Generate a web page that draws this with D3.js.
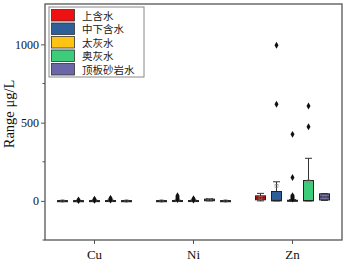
<!DOCTYPE html>
<html>
<head>
<meta charset="utf-8">
<script src="https://cdn.jsdelivr.net/npm/d3@7"></script>
<style>
  body { margin: 0; background: #fff; }
  svg { display: block; }
</style>
</head>
<body>
<div id="chart"></div>
<script>
const width = 345
const height = 267

const margin = { top: 4, bottom: 27, left: 45, right: 3 }

// data (µg/L)
const elements = ["Cu", "Ni", "Zn"]
const waters = ["上含水", "中下含水", "太灰水", "奥灰水", "顶板砂岩水"]
const colors = ["#ee1111", "#2f5f98", "#ffc316", "#3ccc7a", "#6b66a6"]
const yTicks = [0, 500, 1000]

// per element, per water type
const q1 = [[0, 0, 0, 0, 0], [0, 0, 0, 1, 0], [7, 0, 0, 0, 6]]
const median = [[0.5, 0.5, 0.5, 1, 0.5], [0.5, 1, 1, 5, 0.5], [19, 3, 1, 2, 25]]
const q3 = [[1, 1, 1.5, 2, 1], [1, 2, 2, 11, 1], [32, 60, 4, 130, 45]]
const whiskerLow = [[0, 0, 0, 0, 0], [0, 0, 0, 0, 0], [0, 0, 0, 0, 3]]
const whiskerHigh = [[2, 2, 3, 4, 2], [2, 4, 4, 14, 2], [48, 122, 8, 272, 46]]
const means = [[0.5, 1, 2, 3, 0.5], [0.5, 5, 3, 6, 0.5], [20, 95, 30, 125, 25]]
const outliers = [
  [[], [3, 5], [4, 7, 10], [5, 9, 13, 16], []],
  [[], [8, 14, 20, 27, 33], [5, 9, 13], [], []],
  [[], [617, 995], [12, 17, 22, 27, 33, 149, 425], [474, 606], []]
]

const svg = d3.select("#chart").append("svg").attr("width", width).attr("height", height)
const plotW = width - margin.left - margin.right
const plotH = height - margin.top - margin.bottom

const x = d3.scaleBand().domain(elements).range([margin.left, margin.left + plotW]).padding(0)
const y = d3.scaleLinear().domain([-250, 1258]).range([margin.top + plotH, margin.top])
const sub = d3.scaleLinear().domain([0, waters.length - 1]).range([-32, 32])
const boxW = 10

// axes
const yAxis = svg.append("g").attr("transform", `translate(${margin.left},0)`)
  .call(d3.axisLeft(y).tickValues(yTicks).tickSize(4).tickFormat(d3.format("d")))
yAxis.selectAll("text").style("font-family", "Liberation Serif").style("font-size", "12px").style("fill", "#111").attr("x", -6)
yAxis.selectAll("line").attr("stroke", "#555")
yAxis.select(".domain").remove()
svg.append("g").selectAll("line").data([-250, 250, 750]).join("line")
  .attr("x1", margin.left - 2.5).attr("x2", margin.left)
  .attr("y1", d => y(d)).attr("y2", d => y(d)).attr("stroke", "#555")

const xAxis = svg.append("g").attr("transform", `translate(0,${margin.top + plotH})`)
  .call(d3.axisBottom(x).tickSize(4))
xAxis.selectAll("text").style("font-family", "Liberation Serif").style("font-size", "13px").style("fill", "#111").attr("y", 10)
xAxis.selectAll("line").attr("stroke", "#555")
xAxis.select(".domain").remove()

svg.append("rect").attr("x", margin.left).attr("y", margin.top).attr("width", plotW).attr("height", plotH)
  .attr("fill", "none").attr("stroke", "#555").attr("stroke-width", 1.3)

svg.append("text").attr("transform", `translate(14,${margin.top + 110}) rotate(-90)`)
  .attr("text-anchor", "middle").style("font-family", "Liberation Serif").style("font-size", "14.5px")
  .style("fill", "#111").text("Range μg/L")

// boxes
const boxes = []
elements.forEach((el, i) => {
  waters.forEach((w, j) => {
    boxes.push({ el, i, j, cx: x(el) + x.bandwidth() / 2 + sub(j) })
  })
})

const g = svg.append("g")
boxes.forEach(b => {
  const { i, j, cx } = b
  const gg = g.append("g")
  // whiskers
  gg.append("line").attr("x1", cx).attr("x2", cx).attr("y1", y(q3[i][j])).attr("y2", y(whiskerHigh[i][j]))
    .attr("stroke", "#333").attr("stroke-width", 1)
  gg.append("line").attr("x1", cx).attr("x2", cx).attr("y1", y(q1[i][j])).attr("y2", y(whiskerLow[i][j]))
    .attr("stroke", "#333").attr("stroke-width", 1)
  gg.append("line").attr("x1", cx - 3.5).attr("x2", cx + 3.5).attr("y1", y(whiskerHigh[i][j])).attr("y2", y(whiskerHigh[i][j]))
    .attr("stroke", "#333").attr("stroke-width", 1)
  gg.append("line").attr("x1", cx - 3.5).attr("x2", cx + 3.5).attr("y1", y(whiskerLow[i][j])).attr("y2", y(whiskerLow[i][j]))
    .attr("stroke", "#333").attr("stroke-width", 1)
  // box
  const top = y(q3[i][j]), bot = y(q1[i][j])
  gg.append("rect").attr("x", cx - boxW / 2).attr("y", top).attr("width", boxW).attr("height", Math.max(bot - top, 1))
    .attr("fill", colors[j]).attr("stroke", "#222").attr("stroke-width", 1)
  gg.append("line").attr("x1", cx - boxW / 2).attr("x2", cx + boxW / 2).attr("y1", y(median[i][j])).attr("y2", y(median[i][j]))
    .attr("stroke", "#222").attr("stroke-width", 1)
  // mean
  gg.append("rect").attr("x", cx - 1.5).attr("y", y(means[i][j]) - 1.5).attr("width", 3).attr("height", 3)
    .attr("fill", "none").attr("stroke", "#888").attr("stroke-width", 0.6)
  // outliers
  gg.selectAll("path").data(outliers[i][j]).join("path")
    .attr("transform", d => `translate(${cx},${y(d)})`)
    .attr("d", d3.symbol(d3.symbolDiamond, 14))
    .attr("fill", "#111")
})

// legend
const legend = svg.append("g").attr("transform", "translate(49,7)")
legend.append("rect").attr("width", 95).attr("height", 70).attr("fill", "#fff").attr("stroke", "#888").attr("stroke-width", 1)
const rows = legend.selectAll("g.row").data(waters).join("g").attr("class", "row")
  .attr("transform", (d, k) => `translate(0,${2.5 + k * 13.5})`)
rows.append("rect").attr("x", 2.5).attr("y", 0).attr("width", 23).attr("height", 11.5)
  .attr("fill", (d, k) => colors[k]).attr("stroke", "#333").attr("stroke-width", 0.8)
rows.append("text").attr("x", 33).attr("y", 10).style("font-family", "Noto Sans CJK SC").style("font-size", "10.5px")
  .style("fill", "#222").text(d => d)
</script>
</body>
</html>
